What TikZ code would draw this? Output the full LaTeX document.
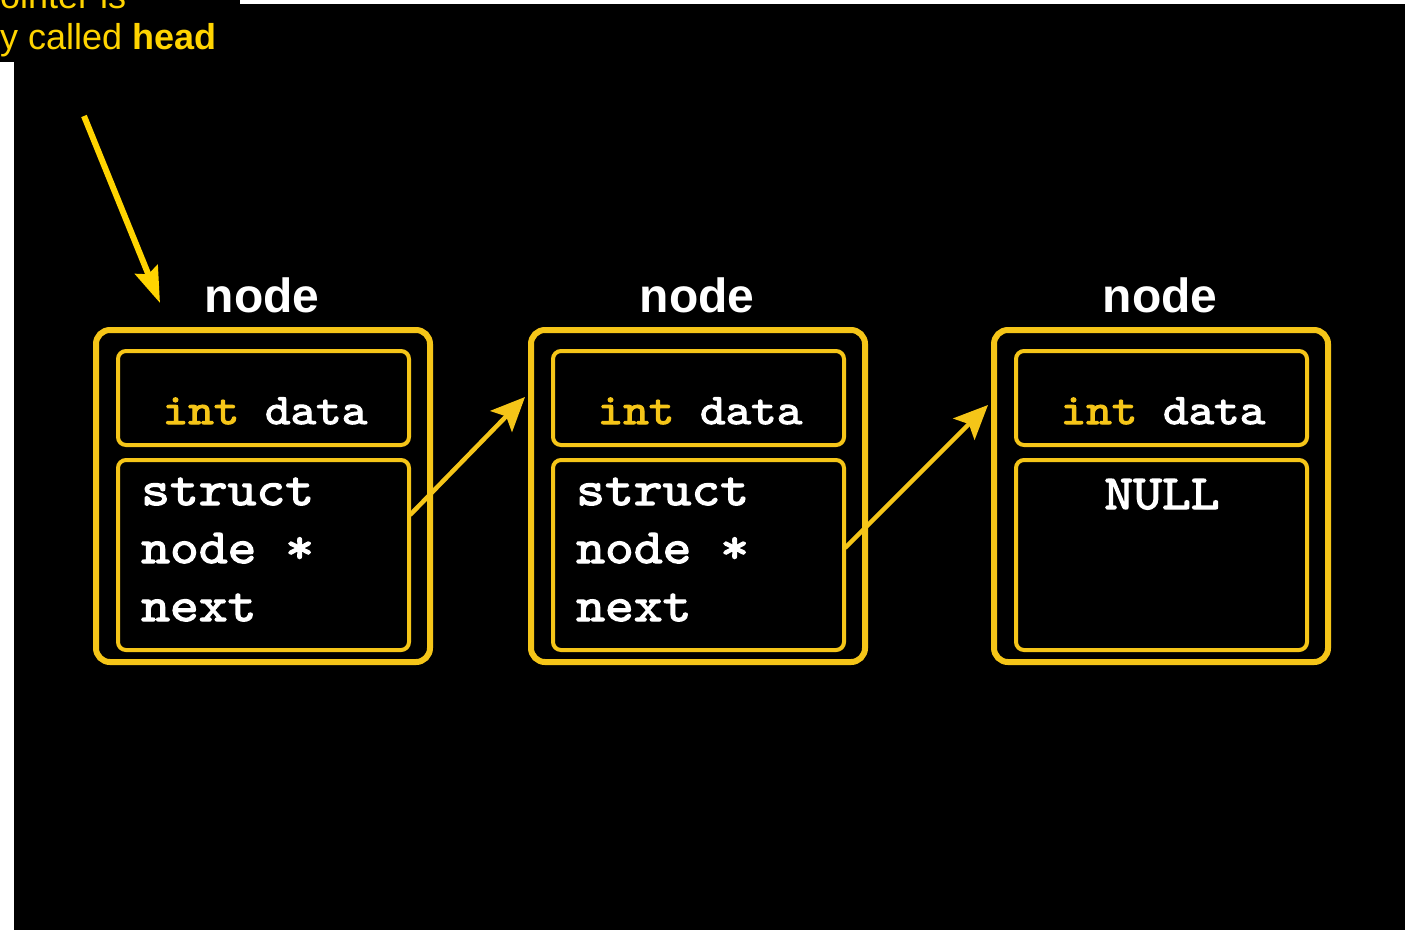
\documentclass[tikz,border=0pt]{standalone}
\usepackage{fontspec}
\setmainfont{Liberation Sans}
\newfontfamily\codefont[FakeBold=2.5,FakeStretch=1.12]{lmmono10-regular.otf}
\usetikzlibrary{arrows.meta,calc}
\definecolor{gold}{HTML}{F5C518}
\definecolor{hy}{HTML}{FFD400}
\tikzset{
  outerbox/.style={draw=gold, line width=6pt, rounded corners=14pt, minimum width=334pt, minimum height=332pt, inner sep=0pt},
  topbox/.style={draw=gold, line width=4pt, rounded corners=8pt, minimum width=291pt, minimum height=94pt, inner sep=0pt},
  botbox/.style={draw=gold, line width=4pt, rounded corners=8pt, minimum width=291pt, minimum height=190pt, inner sep=0pt},
  title/.style={text=white, font=\fontsize{48}{48}\selectfont\bfseries, anchor=base, inner sep=0pt},
  code/.style={text=white, font=\fontsize{49}{49}\selectfont\codefont, anchor=base west, inner sep=0pt},
  datatxt/.style={text=white, font=\fontsize{43.5}{43.5}\selectfont\codefont, anchor=base, inner sep=0pt},
  link/.style={draw=gold, line width=4.5pt, -{Stealth[length=34pt,width=30pt,inset=7pt]}},
  headarrow/.style={draw=hy, line width=6pt, -{Stealth[length=36pt,width=24pt,inset=5pt]}},
  caption/.style={text=hy, font=\fontsize{36}{36}\selectfont, anchor=base west, inner sep=0pt}
}
\begin{document}
\begin{tikzpicture}[x=1pt,y=-1pt]
\useasboundingbox (0,0) rectangle (1415,930);
\fill[white] (0,0) rectangle (1415,930);
\fill[black] (14,4) rectangle (1405,930);
\fill[black] (0,0) rectangle (240,62);
% caption
\begin{scope}
\clip (0,0) rectangle (240,62);
\node[caption] (cap1) at (0,8) {ointer is};
\node[caption] (cap2) at (0,49) {y called \textbf{head}};
\end{scope}
% node 1
\node[outerbox] (n1) at (263,496) {};
\node[topbox] (n1a) at (263.5,398) {};
\node[botbox] (n1b) at (263.5,555) {};
\node[title] (t1) at (262,312) {node};
\node[datatxt] (d1) at (265,424) {{\color{gold}int} data};
\node[code] (s1) at (141,505) {struct};
\node[code] (s1b) at (141,563) {node *};
\node[code] (s1c) at (141,621) {next};
% node 2
\node[outerbox] (n2) at (698,496) {};
\node[topbox] (n2a) at (698.5,398) {};
\node[botbox] (n2b) at (698.5,555) {};
\node[title] (t2) at (697,312) {node};
\node[datatxt] (d2) at (700,424) {{\color{gold}int} data};
\node[code] (s2) at (576,505) {struct};
\node[code] (s2b) at (576,563) {node *};
\node[code] (s2c) at (576,621) {next};
% node 3
\node[outerbox] (n3) at (1161,496) {};
\node[topbox] (n3a) at (1161.5,398) {};
\node[botbox] (n3b) at (1161.5,555) {};
\node[title] (t3) at (1160,312) {node};
\node[datatxt] (d3) at (1163,424) {{\color{gold}int} data};
\node[datatxt, font=\fontsize{49}{49}\selectfont\codefont] (null) at (1162,509) {NULL};
% links
\coordinate (a1s) at (410,515);
\coordinate (a1e) at (525,397);
\coordinate (a2s) at (845,548);
\coordinate (a2e) at (988,405);
\draw[link] (a1s) -- (a1e);
\draw[link] (a2s) -- (a2e);
% head arrow
\coordinate (hs) at (84,116);
\coordinate (he) at (160,303);
\draw[headarrow] (hs) -- (he);
\end{tikzpicture}
\end{document}
